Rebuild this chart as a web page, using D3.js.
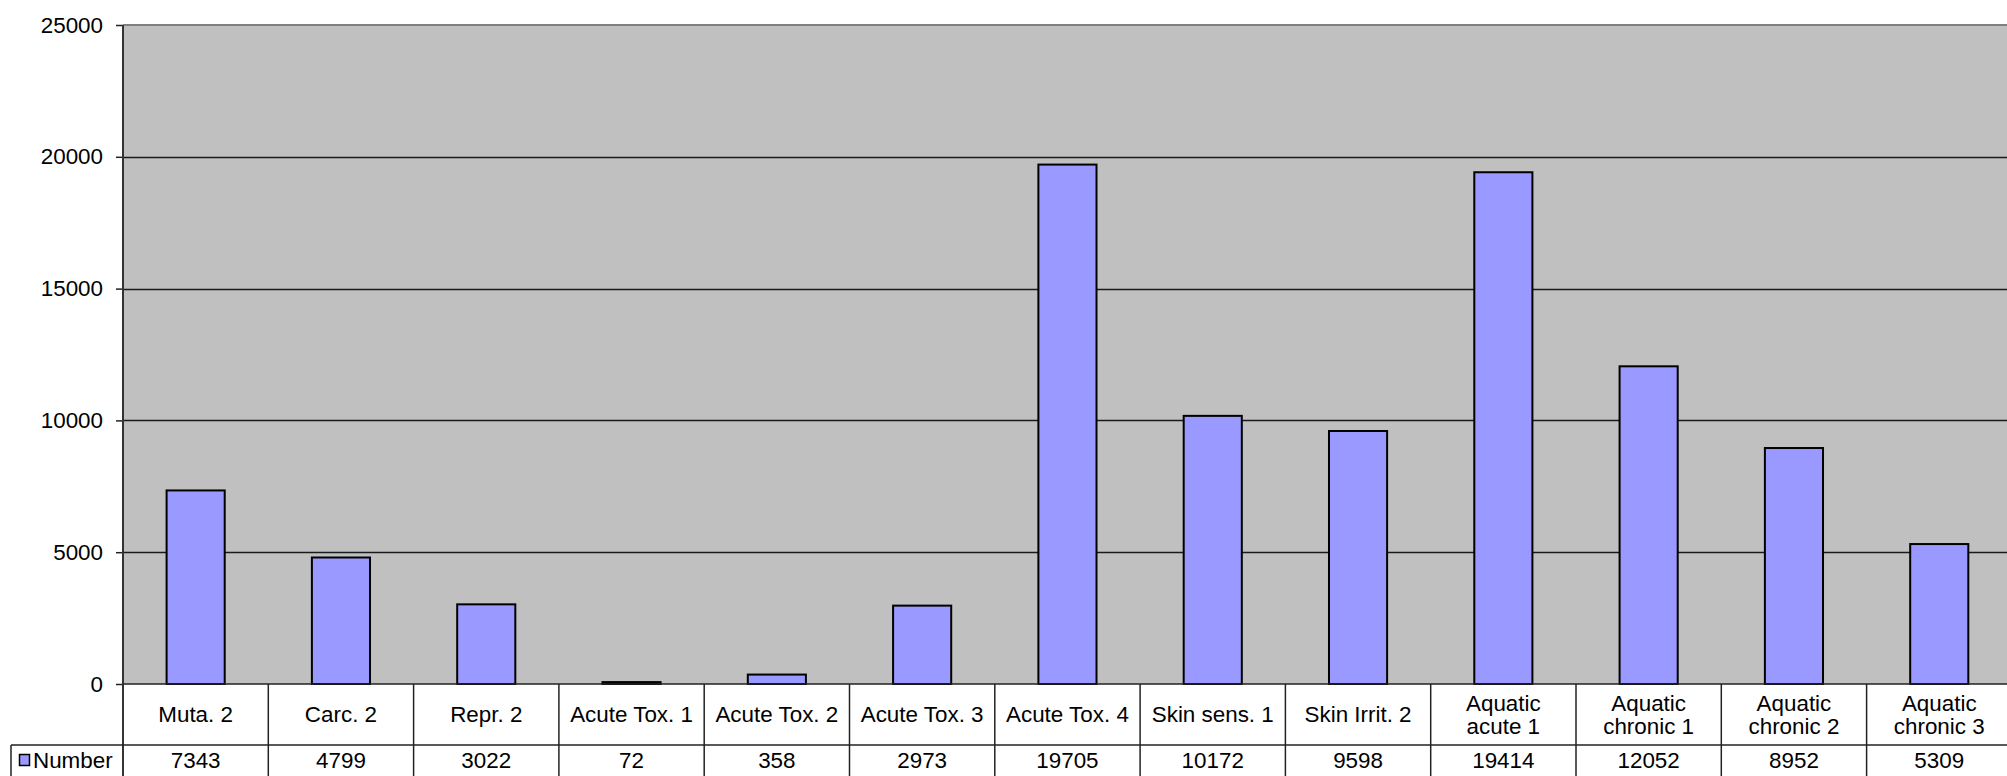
<!DOCTYPE html>
<html>
<head>
<meta charset="utf-8">
<script src="https://cdn.jsdelivr.net/npm/d3@7"></script>
<style>
  html, body { margin: 0; padding: 0; background: #fff; }
  svg { display: block; }
  text { font-family: "Liberation Sans", Arial, sans-serif; fill: #000; }
</style>
</head>
<body>
<svg id="chart" width="2007" height="776"></svg>
<script>
const categories = ["Muta. 2", "Carc. 2", "Repr. 2", "Acute Tox. 1", "Acute Tox. 2", "Acute Tox. 3",
  "Acute Tox. 4", "Skin sens. 1", "Skin Irrit. 2", "Aquatic\nacute 1", "Aquatic\nchronic 1",
  "Aquatic\nchronic 2", "Aquatic\nchronic 3"];
const values = [7343, 4799, 3022, 72, 358, 2973, 19705, 10172, 9598, 19414, 12052, 8952, 5309];
const yTicks = [0, 5000, 10000, 15000, 20000, 25000];
const seriesName = "Number";

const W = 2007, H = 776;
const plotLeft = 123, plotTop = 25, zeroY = 684, band = 145.3;
const rowSplit = 745;
const fontSize = 22.4;

const svg = d3.select("#chart");

const x = d3.scaleBand().domain(categories).range([plotLeft, plotLeft + band * categories.length]).padding(0);
const y = d3.scaleLinear().domain([0, 25000]).range([zeroY, plotTop]);
const bw = x.bandwidth();

// plot background
svg.append("rect").attr("x", plotLeft).attr("y", plotTop)
  .attr("width", x.range()[1] - plotLeft).attr("height", zeroY - plotTop)
  .attr("fill", "#C0C0C0");

// gridlines
svg.append("g").selectAll("line").data(yTicks.filter(t => t > 0 && t < 25000)).join("line")
  .attr("x1", plotLeft).attr("x2", x.range()[1])
  .attr("y1", d => Math.round(y(d)) + 0.5).attr("y2", d => Math.round(y(d)) + 0.5)
  .attr("stroke", "#1a1a1a").attr("stroke-width", 1.5);

// top border
svg.append("line").attr("x1", plotLeft).attr("x2", x.range()[1])
  .attr("y1", plotTop).attr("y2", plotTop).attr("stroke", "#808080").attr("stroke-width", 2);

// bars
svg.append("g").selectAll("rect").data(values).join("rect")
  .attr("x", (d, i) => x(categories[i]) + bw * 0.3)
  .attr("width", bw * 0.4)
  .attr("y", d => y(d))
  .attr("height", d => zeroY - y(d))
  .attr("fill", "#9999FF")
  .attr("stroke", "#000")
  .attr("stroke-width", 2);

// y axis
const yAxis = d3.axisLeft(y).tickValues(yTicks).tickSize(7).tickPadding(13).tickFormat(d3.format("d"));
const ga = svg.append("g").attr("transform", `translate(${plotLeft},0)`).call(yAxis);
ga.select(".domain").remove();
ga.selectAll(".tick line").attr("stroke", "#222").attr("stroke-width", 1.5);
ga.selectAll(".tick text").attr("font-size", fontSize).attr("font-family", "Liberation Sans, Arial, sans-serif").attr("fill", "#000");

// left axis line
svg.append("line").attr("x1", plotLeft).attr("x2", plotLeft).attr("y1", plotTop).attr("y2", H)
  .attr("stroke", "#333").attr("stroke-width", 2);

// zero line
svg.append("line").attr("x1", plotLeft).attr("x2", x.range()[1]).attr("y1", zeroY).attr("y2", zeroY)
  .attr("stroke", "#222").attr("stroke-width", 1.5);

// data table
const tbl = svg.append("g");
tbl.selectAll("line.v").data(categories).join("line").attr("class", "v")
  .attr("x1", d => x(d) + bw).attr("x2", d => x(d) + bw)
  .attr("y1", zeroY).attr("y2", H)
  .attr("stroke", "#222").attr("stroke-width", 1.5);
tbl.append("line").attr("x1", 11).attr("x2", x.range()[1]).attr("y1", rowSplit).attr("y2", rowSplit)
  .attr("stroke", "#222").attr("stroke-width", 1.5);
tbl.append("line").attr("x1", 11).attr("x2", 11).attr("y1", rowSplit).attr("y2", H)
  .attr("stroke", "#222").attr("stroke-width", 1.5);

// category labels
const catY = (zeroY + rowSplit) / 2;
const lineH = 23.5;
tbl.selectAll("text.cat").data(categories).join("text").attr("class", "cat")
  .attr("text-anchor", "middle").attr("font-size", fontSize)
  .each(function(d) {
    const lines = d.split("\n");
    const t = d3.select(this);
    lines.forEach((ln, i) => {
      t.append("tspan").attr("x", x(d) + bw / 2)
        .attr("y", catY + (i - (lines.length - 1) / 2) * lineH)
        .attr("dy", "0.35em").text(ln);
    });
  });

// values row
const valY = 760;
tbl.selectAll("text.val").data(values).join("text").attr("class", "val")
  .attr("x", (d, i) => x(categories[i]) + bw / 2).attr("y", valY).attr("dy", "0.35em")
  .attr("text-anchor", "middle").attr("font-size", fontSize).text(d => d);

// legend key
tbl.append("rect").attr("x", 19.5).attr("y", 754.5).attr("width", 10).attr("height", 11)
  .attr("fill", "#9999FF").attr("stroke", "#000").attr("stroke-width", 1.5);
tbl.append("text").attr("x", 33).attr("y", valY).attr("dy", "0.35em")
  .attr("font-size", fontSize).text(seriesName);
</script>
</body>
</html>
